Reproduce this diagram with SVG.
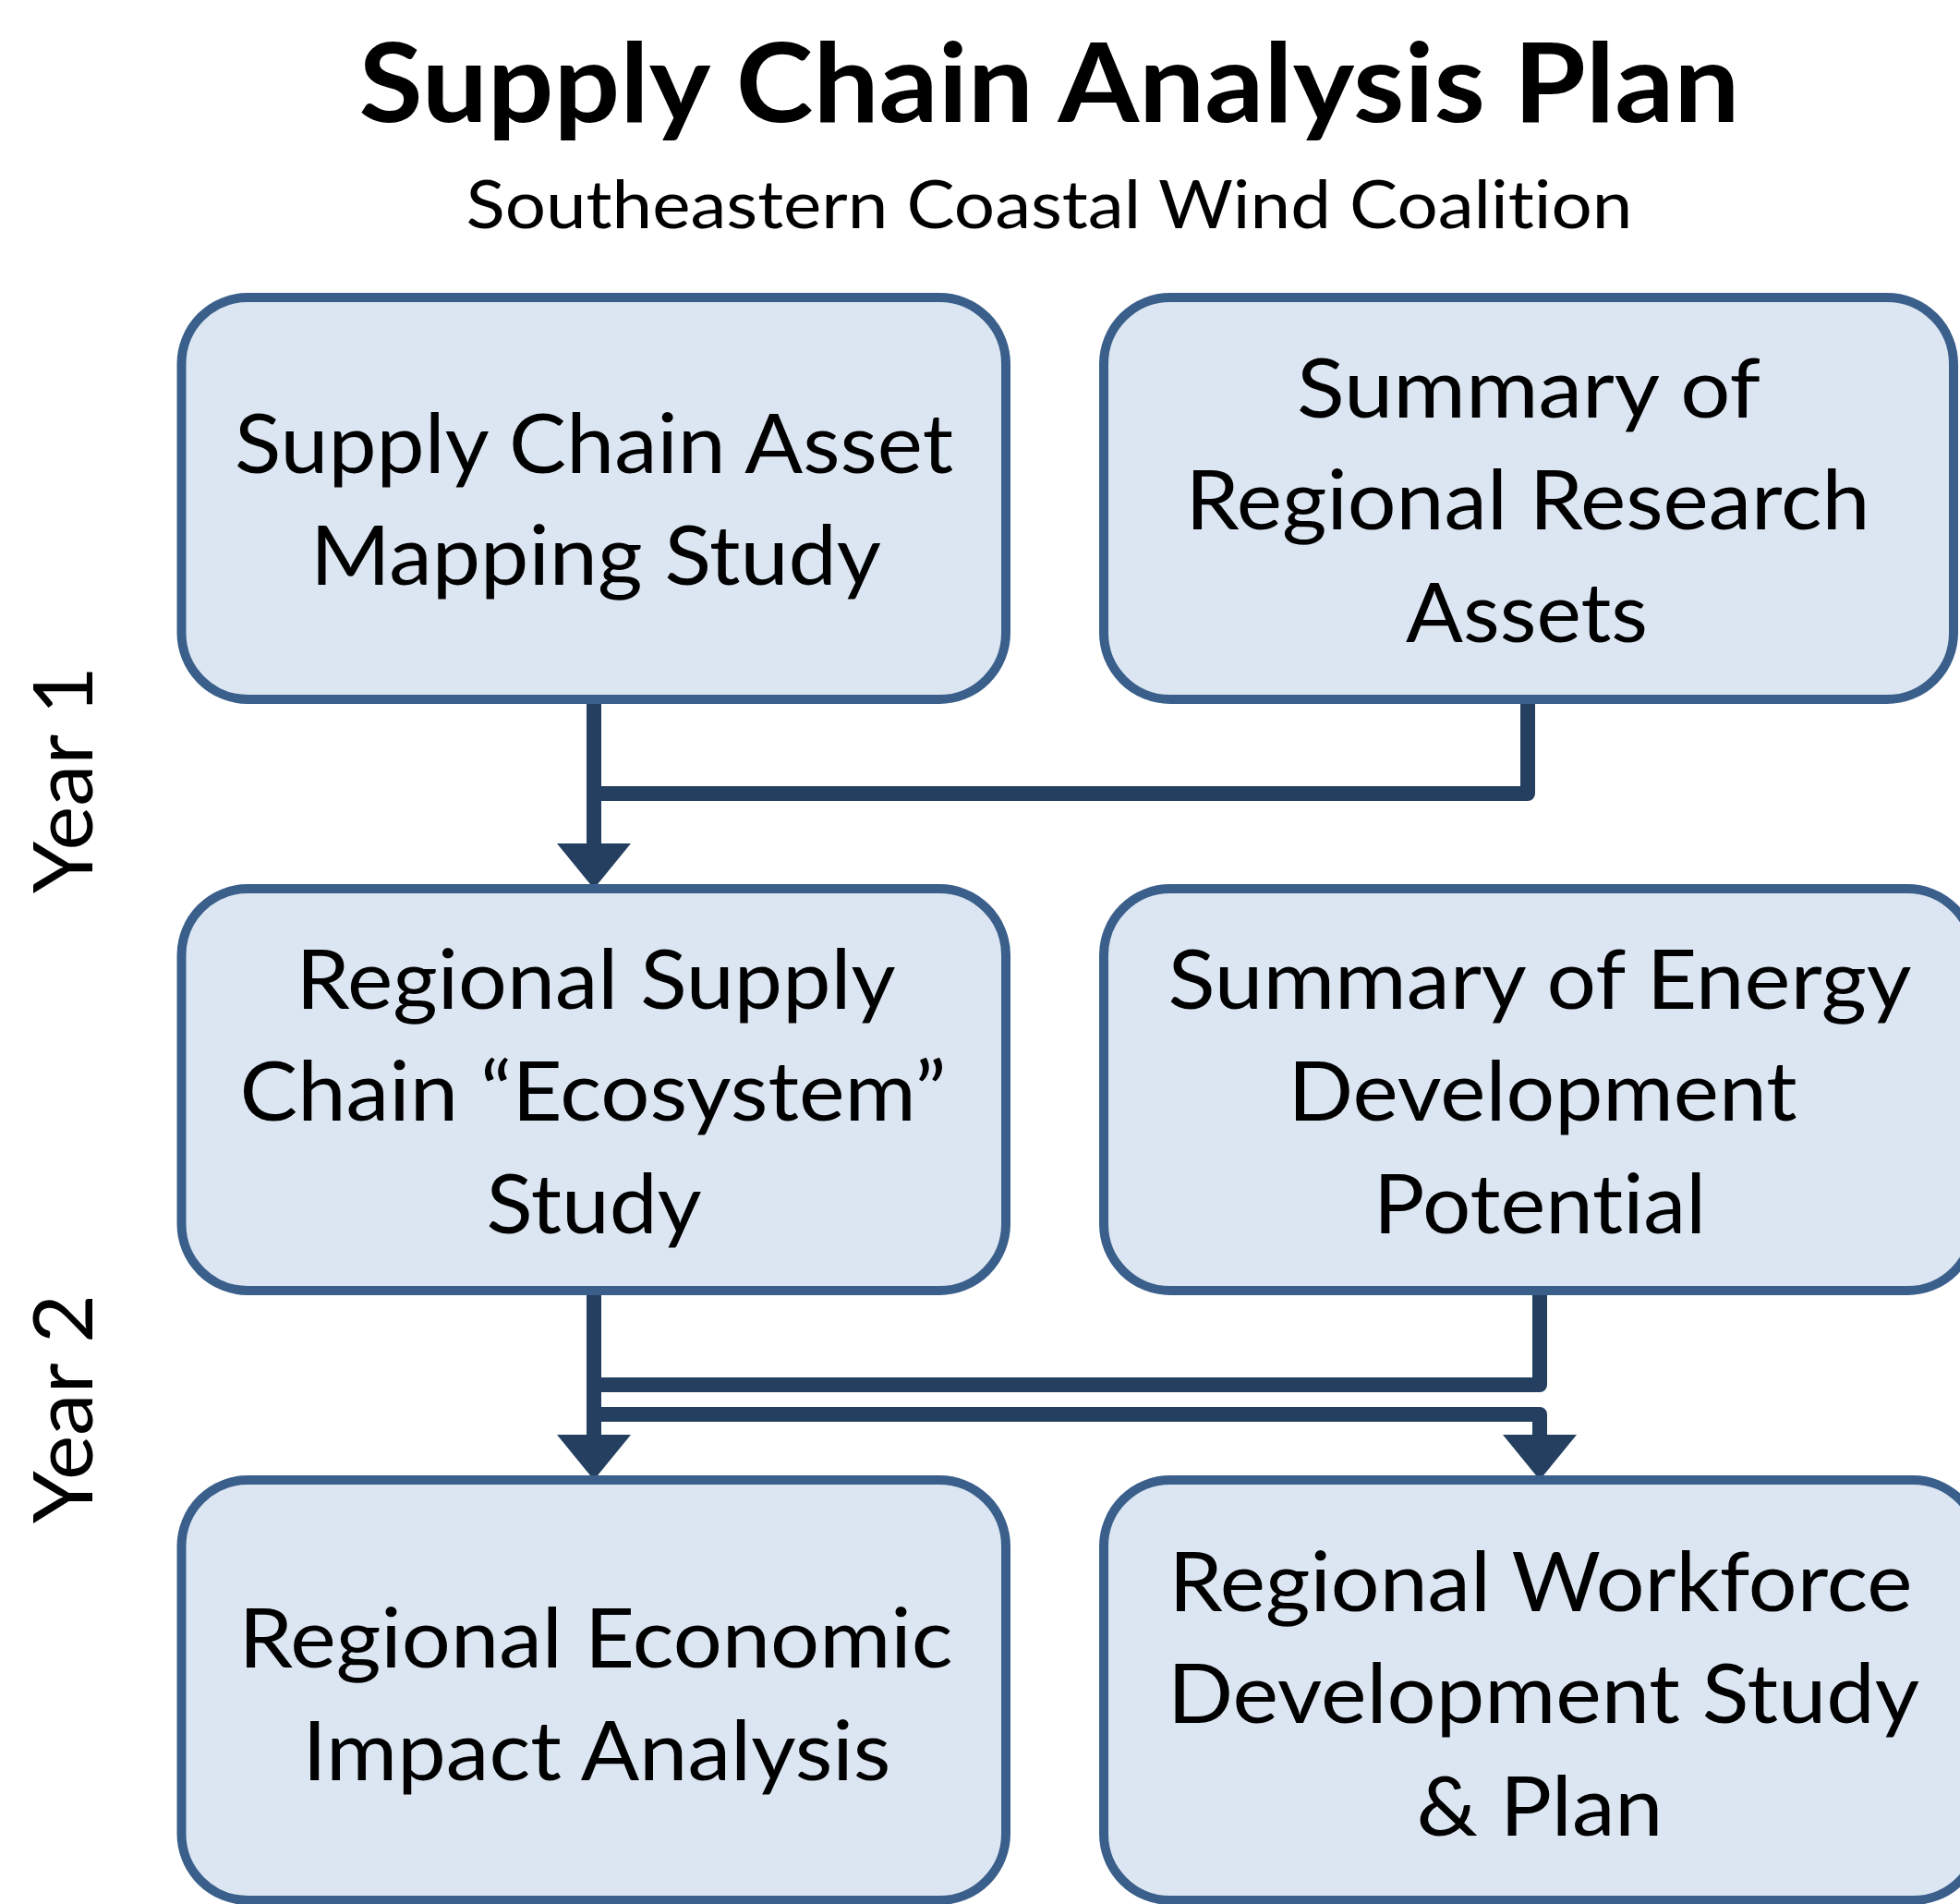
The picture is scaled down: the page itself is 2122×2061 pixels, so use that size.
<svg xmlns="http://www.w3.org/2000/svg" width="2122" height="2061" viewBox="0 0 2122 2061">
<style>
text{font-variant-ligatures:none;font-feature-settings:"liga" 0,"clig" 0,"dlig" 0}
.box{fill:#DCE6F2;stroke:#3A5F8B;stroke-width:10}
.t{font-family:Lato,"Open Sans",sans-serif;font-size:89px;fill:#000;text-anchor:middle}
.title{font-family:Lato,"Open Sans",sans-serif;font-size:118px;font-weight:bold;fill:#000;text-anchor:middle}
.sub{font-family:Lato,"Open Sans",sans-serif;font-size:72px;fill:#000;text-anchor:middle}
.conn{fill:none;stroke:#243F60;stroke-width:16;stroke-linejoin:round}
</style>
<defs>
<marker id="ah" viewBox="0 0 49 80" refX="0" refY="40" markerWidth="49" markerHeight="80" markerUnits="userSpaceOnUse" orient="auto">
<path d="M0 0 L49 40 L0 80 Z" fill="#243F60"/>
</marker>
</defs>
<rect width="2122" height="2061" fill="#fff"/>
<g id="title">
<text class="title" x="1136" y="132" textLength="1495" lengthAdjust="spacingAndGlyphs">Supply Chain Analysis Plan</text>
<text class="sub" x="1136" y="247" textLength="1263" lengthAdjust="spacingAndGlyphs">Southeastern Coastal Wind Coalition</text>
</g>
<g id="year1"><text class="t" transform="translate(100 844) rotate(-90)" x="0" y="0" textLength="246" lengthAdjust="spacingAndGlyphs">Year 1</text></g>
<g id="year2"><text class="t" transform="translate(100 1525) rotate(-90)" x="0" y="0" textLength="248" lengthAdjust="spacingAndGlyphs">Year 2</text></g>
<g id="connectors">
<path class="conn" d="M643 757 V913" marker-end="url(#ah)"/>
<path class="conn" d="M1654 757 V859 H643 V913"/>
<path class="conn" d="M643 1397 V1553" marker-end="url(#ah)"/>
<path class="conn" d="M1667 1397 V1499 H643 V1553"/>
<path class="conn" d="M643 1397 V1531 H1667 V1553" marker-end="url(#ah)"/>
</g>
<g id="n1">
<rect class="box" x="196.5" y="322" width="892.5" height="435" rx="72"/>
<text class="t" x="643" y="512" textLength="778" lengthAdjust="spacingAndGlyphs">Supply Chain Asset</text>
<text class="t" x="645" y="633" textLength="618" lengthAdjust="spacingAndGlyphs">Mapping Study</text>
</g>
<g id="n2">
<rect class="box" x="1195" y="322" width="920" height="435" rx="72"/>
<text class="t" x="1655" y="452" textLength="502" lengthAdjust="spacingAndGlyphs">Summary of</text>
<text class="t" x="1654" y="573" textLength="741" lengthAdjust="spacingAndGlyphs">Regional Research</text>
<text class="t" x="1653" y="695" textLength="262" lengthAdjust="spacingAndGlyphs">Assets</text>
</g>
<g id="n3">
<rect class="box" x="196.5" y="962" width="892.5" height="435" rx="72"/>
<text class="t" x="645" y="1092" textLength="649" lengthAdjust="spacingAndGlyphs">Regional Supply</text>
<text class="t" x="642" y="1213" textLength="765" lengthAdjust="spacingAndGlyphs">Chain “Ecosystem”</text>
<text class="t" x="643" y="1335" textLength="233" lengthAdjust="spacingAndGlyphs">Study</text>
</g>
<g id="n4">
<rect class="box" x="1195" y="962" width="942" height="435" rx="72"/>
<text class="t" x="1667" y="1092" textLength="805" lengthAdjust="spacingAndGlyphs">Summary of Energy</text>
<text class="t" x="1670" y="1213" textLength="551" lengthAdjust="spacingAndGlyphs">Development</text>
<text class="t" x="1667" y="1335" textLength="360" lengthAdjust="spacingAndGlyphs">Potential</text>
</g>
<g id="n5">
<rect class="box" x="196.5" y="1602" width="892.5" height="455" rx="72"/>
<text class="t" x="645" y="1805" textLength="773" lengthAdjust="spacingAndGlyphs">Regional Economic</text>
<text class="t" x="646" y="1927" textLength="637" lengthAdjust="spacingAndGlyphs">Impact Analysis</text>
</g>
<g id="n6">
<rect class="box" x="1195" y="1602" width="948" height="455" rx="72"/>
<text class="t" x="1668" y="1744" textLength="805" lengthAdjust="spacingAndGlyphs">Regional Workforce</text>
<text class="t" x="1671" y="1865" textLength="814" lengthAdjust="spacingAndGlyphs">Development Study</text>
<text class="t" x="1667" y="1987" textLength="267" lengthAdjust="spacingAndGlyphs">&amp; Plan</text>
</g>
</svg>
